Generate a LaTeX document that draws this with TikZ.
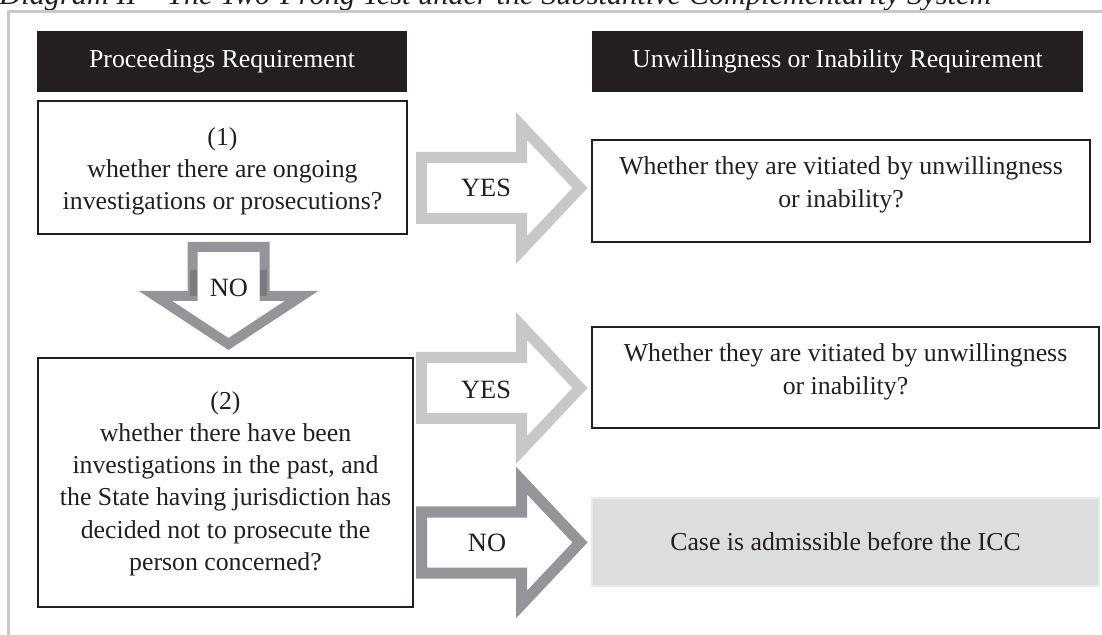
\documentclass[tikz,border=0pt]{standalone}
\usepackage{fontspec}
\setmainfont{Liberation Serif}
\definecolor{ink}{HTML}{231F20}
\definecolor{framegray}{HTML}{C8C9CA}
\definecolor{yesgray}{HTML}{C7C8CA}
\definecolor{nogray}{HTML}{939598}
\definecolor{nodark}{HTML}{7A7B7E}
\definecolor{resultfill}{HTML}{DCDDDF}
\definecolor{resultedge}{HTML}{E8E9EA}

\tikzset{
  % block arrow pointing right; origin = middle of the shaft's back end
  pics/rightblock/.style={code={
    \draw[line width=5.5pt, miter limit=20, fill=white, #1]
      (0,-30.5) -- (100,-30.5) -- (100,-62) -- (158.5,0) -- (100,62)
      -- (100,30.5) -- (0,30.5) -- cycle;
  }},
  % block arrow pointing down; origin = middle of the shaft's top end
  pics/downblock/.style={code={
    \draw[line width=5pt, miter limit=20, fill=white, #1]
      (-36,0) -- (36,0) -- (36,49) -- (73,49) -- (0,97) -- (-73,49)
      -- (-36,49) -- cycle;
  }},
  yesarrow/.style={draw=yesgray},
  noarrow/.style={draw=nogray},
}

\begin{document}
\begin{tikzpicture}[x=0.5pt,y=-0.5pt,
  every node/.style={font=\fontsize{12.9pt}{16pt}\selectfont, inner sep=0pt, text=ink},
  header/.style={fill=ink, text=white, minimum height=30.5pt},
  qbox/.style={draw=ink, line width=1pt, fill=white},
  qtext/.style={align=center},
  result/.style={draw=resultedge, line width=0.6pt, fill=resultfill, align=center},
  label/.style={font=\fontsize{13.2pt}{16pt}\selectfont},
]
\useasboundingbox (0,0) rectangle (1102,635);
\clip (0,0) rectangle (1102,635);

% caption line above the frame
\node[anchor=base west, font=\itshape\fontsize{13pt}{16pt}\selectfont] (title) at (-1,4.5)
  {\resizebox{496pt}{!}{Diagram II – The Two-Prong Test under the Substantive Complementarity System}};

% frame
\draw[framegray, line width=1.5pt] (8,640) -- (8,12) -- (1110,12);

% column headers
\node[header, minimum width=185pt] (h1) at (222,61.5) {Proceedings Requirement};
\node[header, minimum width=245.5pt] (h2) at (837.5,61.5) {Unwillingness or Inability Requirement};

% questions
\node[qbox, minimum width=184.5pt, minimum height=66.5pt] (q1) at (222.5,167.5) {};
\node[qtext] (q1t) at ([yshift=-2pt]q1.center)
  {(1)\\whether there are ongoing\\investigations or prosecutions?};
\node[qbox, minimum width=187.5pt, minimum height=124.5pt] (q2) at (225.5,482.5) {};
\node[qtext, font=\fontsize{12.9pt}{16.1pt}\selectfont] (q2t) at ([yshift=-0.5pt]q2.center)
  {(2)\\whether there have been\\investigations in the past, and\\the State having jurisdiction has\\decided not to prosecute the\\person concerned?};

% outcomes
\node[qbox, minimum width=249pt, minimum height=51pt] (r1) at (841,191) {};
\node[qtext, font=\fontsize{12.9pt}{16.5pt}\selectfont] (r1t) at ([yshift=3pt]r1.center)
  {Whether they are vitiated by unwillingness\\or inability?};
\node[qbox, minimum width=253.5pt, minimum height=50.5pt] (r2) at (845.5,377.5) {};
\node[qtext, font=\fontsize{12.9pt}{16.5pt}\selectfont] (r2t) at ([yshift=3pt]r2.center)
  {Whether they are vitiated by unwillingness\\or inability?};
\node[result, minimum width=253.5pt, minimum height=44pt] (adm) at (845.5,542)
  {Case is admissible before the ICC};

% block arrows
\pic at (421.5,188) {rightblock=yesarrow};
\node[label] (yes1) at (486,188) {YES};
\pic at (421.5,388) {rightblock=yesarrow};
\node[label] (yes2) at (486,390) {YES};
\pic at (421.5,542.5) {rightblock=noarrow};
\node[label] (no2) at (487,543) {NO};
\pic at (228.5,247) {downblock=noarrow};
\draw[nodark, line width=3.5pt] (193.5,270) -- (193.5,296);
\draw[nodark, line width=3.5pt] (263.5,270) -- (263.5,296);
\node[label] (no1) at (229,288) {NO};
\end{tikzpicture}
\end{document}
